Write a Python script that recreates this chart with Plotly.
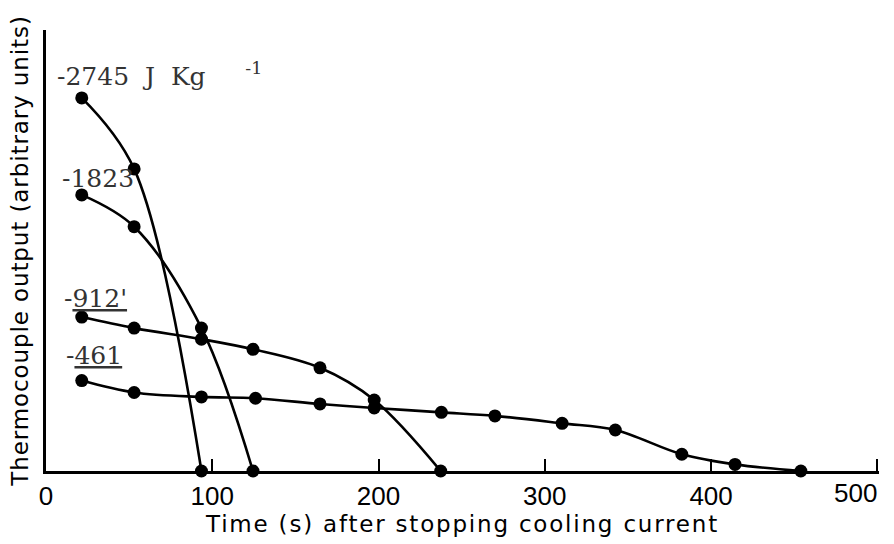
import plotly.graph_objects as go

# Cooling curves: time (s) after the cooling current is stopped vs thermocouple output
t_2745 = [21.5, 53, 93.5]
v_2745 = [84.6, 68.5, 0]

t_1823 = [21.5, 53, 93.5, 124.5]
v_1823 = [62.6, 55.4, 32.4, 0]

t_912 = [21.5, 53, 93.5, 124.5, 164.8, 197.4, 237.4]
v_912 = [34.9, 32.4, 29.9, 27.6, 23.4, 16.1, 0]

t_461 = [21.5, 53, 93.5, 126, 164.8, 197.4, 237.8, 270, 310.4, 342.4, 382.4, 414.4, 454]
v_461 = [20.5, 17.8, 16.8, 16.5, 15.2, 14.3, 13.3, 12.5, 10.8, 9.3, 3.8, 1.5, 0]

x_ticks = [0, 100, 200, 300, 400, 500]
x_ticktext = ["0", "100", "200", "300", "400", ""]
x_last_label = "500"

series = [
    (t_2745, v_2745),
    (t_1823, v_1823),
    (t_912, v_912),
    (t_461, v_461),
]

fig = go.Figure()
for tx, vy in series:
    fig.add_trace(go.Scatter(
        x=tx, y=vy, mode="lines+markers",
        line=dict(color="black", width=2.6, shape="spline", smoothing=1.0),
        marker=dict(color="black", size=13),
        cliponaxis=False, showlegend=False,
    ))

label_font = dict(family="DejaVu Serif", size=25, color="#333333")
labels = [
    (5.3, 89.8, "-2745&nbsp;&nbsp;J&nbsp;&nbsp;Kg&nbsp;&nbsp;&nbsp;&nbsp;&nbsp;<sup>-1</sup>"),
    (8.3, 66.4, "-1823"),
    (9.5, 39.2, "-<span style='text-decoration:underline'>912'</span>"),
    (10.7, 26.3, "-<span style='text-decoration:underline'>461</span>"),
]
for lx, ly, txt in labels:
    fig.add_annotation(x=lx, y=ly, text=txt, showarrow=False,
                       xanchor="left", yanchor="middle", font=label_font)

axis_font = dict(family="Liberation Sans, Arial, sans-serif", size=26, color="black")
title_font = dict(family="DejaVu Sans", size=23, color="black")

# label for the final tick, right-aligned so it stays inside the page
fig.add_annotation(x=x_ticks[-1], xref="x", xanchor="right", xshift=2,
                   y=0, yref="paper", yanchor="top", yshift=-5,
                   text=x_last_label, showarrow=False, font=axis_font)

fig.update_layout(
    width=894, height=544,
    margin=dict(l=46, r=15, t=30, b=73),
    paper_bgcolor="white", plot_bgcolor="white",
    xaxis=dict(
        range=[0, 501], tickmode="array", tickvals=x_ticks, ticktext=x_ticktext,
        ticks="inside", ticklen=12, tickwidth=2, tickcolor="black",
        showline=True, linecolor="black", linewidth=3,
        showgrid=False, zeroline=False, tickfont=axis_font,
        automargin=False,
        title=dict(text="<span style='letter-spacing:1.8px'>Time (s) after stopping cooling current</span>",
                   font=title_font, standoff=2),
    ),
    yaxis=dict(
        range=[0, 100], showticklabels=False, ticks="",
        showline=True, linecolor="black", linewidth=3,
        showgrid=False, zeroline=False, automargin=False,
        title=dict(text="<span style='letter-spacing:0.9px'>Thermocouple output (arbitrary units)</span>",
                   font=title_font, standoff=8),
    ),
)

fig.write_html("out.html")
